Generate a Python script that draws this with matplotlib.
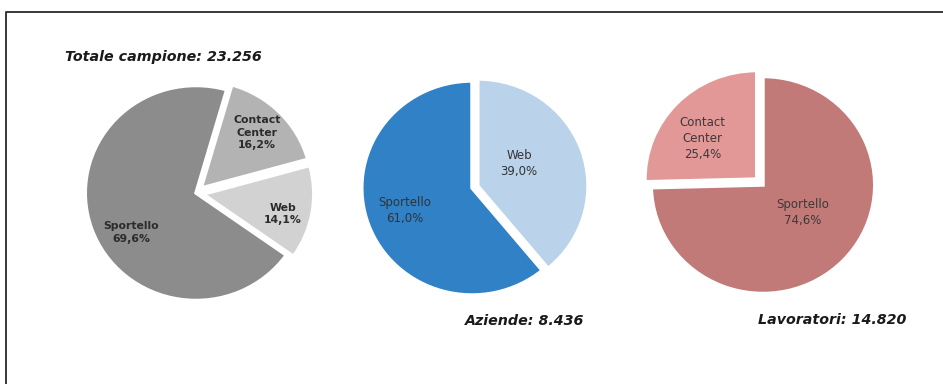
import numpy as np
import matplotlib.pyplot as plt

# canali di contatto: campione totale, aziende, lavoratori
labels_tot = ['Sportello', 'Contact\nCenter', 'Web']
perc_tot = [69.6, 16.2, 14.1]

labels_az = ['Web', 'Sportello']
perc_az = [39.0, 61.0]

labels_lav = ['Contact\nCenter', 'Sportello']
perc_lav = [25.4, 74.6]

titles = ['Totale campione: 23.256', 'Aziende: 8.436', 'Lavoratori: 14.820']

W, H = 943, 384
S = 1.03  # torte leggermente allargate in orizzontale

fig = plt.figure(figsize=(W / 100, H / 100), dpi=100)
ax = fig.add_axes([0, 0, 1, 1])


def X(px):
    return px / S


# cornice in alto e a sinistra
ax.plot([X(6), X(6), X(W)], [0, H - 12, H - 12], color='#2a2a2a', lw=1.3,
        clip_on=False)


def fmt(v):
    return ('%.1f' % v).replace('.', ',') + '%'


def draw_pie(vals, labs, cx, cy, radius, colors, explode, start, ccw, dists,
             shifts, weight, tcolor, fsize):
    wedges, _ = ax.pie(vals, colors=colors, explode=explode, startangle=start,
                       counterclock=ccw, center=(X(cx), H - cy), radius=radius,
                       wedgeprops=dict(edgecolor='white', linewidth=2.5),
                       frame=True)
    for w, lab, v, d, sh in zip(wedges, labs, vals, dists, shifts):
        mid = np.deg2rad((w.theta1 + w.theta2) / 2 + sh)
        wx, wy = w.center
        ax.text(wx + d * radius * np.cos(mid), wy + d * radius * np.sin(mid),
                lab + '\n' + fmt(v), ha='center', va='center', fontsize=fsize,
                fontweight=weight, color=tcolor, linespacing=1.3)


draw_pie(perc_tot, labels_tot, 196, 193, 107.5,
         ['#8c8c8c', '#b3b3b3', '#d2d2d2'], [0, 7, 7], -35.3, False,
         [0.69, 0.72, 0.745], [12.7, 0.8, -4.2], 'bold', '#2b2b2b', 7.8)

draw_pie(perc_az, labels_az, 472, 188, 107,
         ['#bad3eb', '#3181c6'], [6, 0], 90, False,
         [0.43, 0.645], [10, -1], 'normal', '#333333', 8.5)

draw_pie(perc_lav, labels_lav, 763, 185, 108.5,
         ['#e29896', '#c27a78'], [8.5, 0], 90, True,
         [0.61, 0.436], [7, 8], 'normal', '#3a3a3a', 8.5)

ax.set_xlim(0, X(W))
ax.set_ylim(0, H)
ax.set_aspect('auto')
ax.axis('off')

tkw = dict(fontsize=10.3, fontweight='bold', fontstyle='italic',
           color='#1a1a1a', va='center')
ax.text(X(65), H - 57, titles[0], ha='left', **tkw)
ax.text(X(584), H - 321, titles[1], ha='right', **tkw)
ax.text(X(906), H - 320, titles[2], ha='right', **tkw)

fig.savefig('out.png', dpi=100, facecolor='white')
